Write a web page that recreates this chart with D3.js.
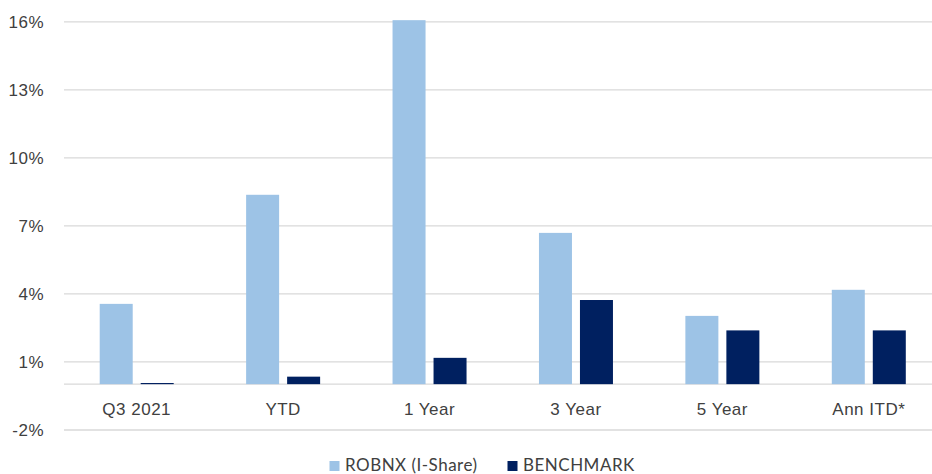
<!DOCTYPE html>
<html>
<head>
<meta charset="utf-8">
<script src="https://cdn.jsdelivr.net/npm/d3@7"></script>
<style>
  html, body { margin: 0; padding: 0; background: #fff; }
  svg { display: block; font-family: Lato, "Open Sans", sans-serif; }
  svg text { letter-spacing: 0.5px; }
</style>
</head>
<body>
<svg id="chart" width="932" height="474"></svg>
<script>
const categories = ["Q3 2021", "YTD", "1 Year", "3 Year", "5 Year", "Ann ITD*"];
const seriesNames = ["ROBNX (I-Share)", "BENCHMARK"];
const robnx = [3.54, 8.35, 16.05, 6.67, 3.01, 4.16];
const benchmark = [0.05, 0.33, 1.16, 3.71, 2.37, 2.37];
const yTicks = [-2, 1, 4, 7, 10, 13, 16];
const colors = ["#9DC3E6", "#002060"];

const svg = d3.select("#chart");
const W = 932, H = 474;
const x0 = 63.5, x1 = 942;
const y = d3.scaleLinear().domain([-2, 16]).range([429.5, 21.3]);
const x = d3.scaleBand().domain(categories).range([x0, x1]).paddingInner(0).paddingOuter(0);
const groupW = 74;
const xs = d3.scaleBand().domain(seriesNames).range([0, groupW]).paddingInner(8 / 41);
const groupOffset = (x.bandwidth() - groupW) / 2;

// gridlines
const yAxis = d3.axisLeft(y).tickValues(yTicks).tickFormat(d => d + "%").tickSize(-(W - 64)).tickPadding(20);
const gy = svg.append("g").attr("transform", "translate(64,0)").call(yAxis);
gy.select(".domain").remove();
gy.selectAll(".tick line").attr("stroke", "#d9d9d9").attr("stroke-width", 1.3);
gy.selectAll(".tick text").attr("fill", "#404040").style("font-size", "17px").attr("dy", "0.34em");

// zero line
svg.append("line").attr("x1", 64).attr("x2", W).attr("y1", y(0)).attr("y2", y(0))
  .attr("stroke", "#d9d9d9").attr("stroke-width", 1.3);

// bars
const data = categories.map((c, i) => ({ c, vals: [robnx[i], benchmark[i]] }));
const groups = svg.append("g").selectAll("g").data(data).join("g")
  .attr("transform", d => `translate(${x(d.c) + groupOffset},0)`);
groups.selectAll("rect").data(d => d.vals.map((v, j) => ({ v, s: seriesNames[j], j })))
  .join("rect")
  .attr("x", d => xs(d.s))
  .attr("width", xs.bandwidth())
  .attr("y", d => y(Math.max(0, d.v)))
  .attr("height", d => Math.abs(y(d.v) - y(0)))
  .attr("fill", d => colors[d.j]);

// category labels
const xAxis = d3.axisBottom(x).tickSize(0).tickPadding(0);
const gx = svg.append("g").attr("transform", `translate(0,${y(0)})`).call(xAxis);
gx.select(".domain").remove();
gx.selectAll(".tick text").attr("fill", "#404040").style("font-size", "17px").attr("dy", "30.5");

// legend
const legend = svg.append("g");
const legendX = [329.5, 507.5];
seriesNames.forEach((s, i) => {
  legend.append("rect").attr("x", legendX[i]).attr("y", 461).attr("width", 10).attr("height", 10).attr("fill", colors[i]);
  legend.append("text").attr("x", legendX[i] + 15.5).attr("y", 471).attr("fill", "#404040")
    .style("font-size", "17px").text(s);
});
</script>
</body>
</html>
